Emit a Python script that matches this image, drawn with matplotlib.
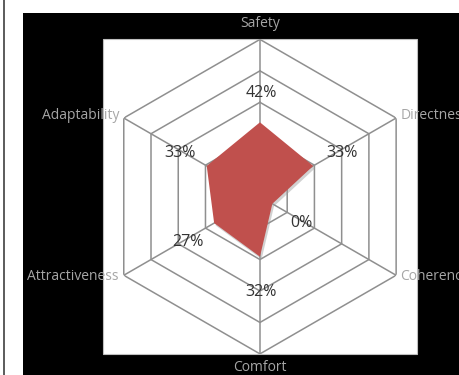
import numpy as np
import matplotlib
matplotlib.use("Agg")
import matplotlib.pyplot as plt
from matplotlib.patches import Rectangle
from matplotlib.lines import Line2D
import matplotlib.patheffects as pe

categories = ["Safety", "Directness", "Coherence", "Comfort", "Attractiveness", "Adaptability"]
values = [0.42, 0.33, 0.00, 0.32, 0.27, 0.33]
value_labels = ["42%", "33%", "0%", "32%", "27%", "33%"]
r_min, r_max = -0.10, 1.00
ring_values = [0.12, 0.34, 0.56, 0.78, 1.00]

W, H = 459, 375
fig = plt.figure(figsize=(W / 100, H / 100), dpi=100, facecolor="white")

# black chart-area background and left border line
fig.add_artist(Rectangle((23.3 / W, 0), 1, (H - 13) / H, transform=fig.transFigure,
                         facecolor="black", edgecolor="none", zorder=-2))
fig.add_artist(Line2D([3.8 / W, 3.8 / W], [0, 1], transform=fig.transFigure,
                      color="#404040", lw=1.2, zorder=-2))

left, bottom, aw, ah = 102.7 / W, (H - 354) / H, 314.5 / W, 314.7 / H
# white square plot area
fig.add_artist(Rectangle((left, bottom), aw, ah, transform=fig.transFigure,
                         facecolor="white", edgecolor="#bfbfbf", lw=0.8, zorder=-1))

ax = fig.add_axes([left, bottom, aw, ah], projection="polar")
ax.set_zorder(1)
ax.patch.set_visible(False)
ax.set_theta_zero_location("N")
ax.set_theta_direction(-1)
ax.set_ylim(r_min, r_max)
ax.grid(False)
ax.spines["polar"].set_visible(False)
ax.set_xticks([])
ax.set_yticks([])

n = len(categories)
theta = np.arange(n) * 2 * np.pi / n
theta_c = np.append(theta, theta[0])

grid_col = "#8f8f8f"
for rv in ring_values:
    ax.plot(theta_c, [rv] * (n + 1), color=grid_col, lw=1.1, zorder=1)
for t in theta:
    ax.plot([t, t], [r_min, r_max], color=grid_col, lw=1.1, zorder=1)

vals_c = np.append(values, values[0])
poly = ax.fill(theta_c, vals_c, facecolor="#c0504d", edgecolor="none", zorder=3)[0]
poly.set_path_effects([pe.SimplePatchShadow(offset=(1.2, -1.8), shadow_rgbFace="#9a9a9a", alpha=0.45),
                       pe.Normal()])

# data labels
off = 23
for t, v, lab in zip(theta, values, value_labels):
    ax.annotate(lab, xy=(t, v), xytext=(off * np.sin(t) + 0.8, off * np.cos(t) - 2.2),
                textcoords="offset points", ha="center", va="center",
                fontsize=11.5, color="#333333", family="Open Sans", zorder=5)

# category labels
lab_col = "#a6a6a6"
specs = {
    0: ((0, 11.5), "center", "center"),
    1: ((3, 2), "left", "center"),
    2: ((3, -1), "left", "center"),
    3: ((0, -10), "center", "center"),
    4: ((-4, -1), "right", "center"),
    5: ((-3, 2), "right", "center"),
}
for i, (t, c) in enumerate(zip(theta, categories)):
    (dx, dy), ha, va = specs[i]
    ax.annotate(c, xy=(t, r_max), xytext=(dx, dy), textcoords="offset points",
                ha=ha, va=va, fontsize=10, color=lab_col, family="Open Sans",
                annotation_clip=False, zorder=5)

fig.savefig("out.png", dpi=100, facecolor="white")
